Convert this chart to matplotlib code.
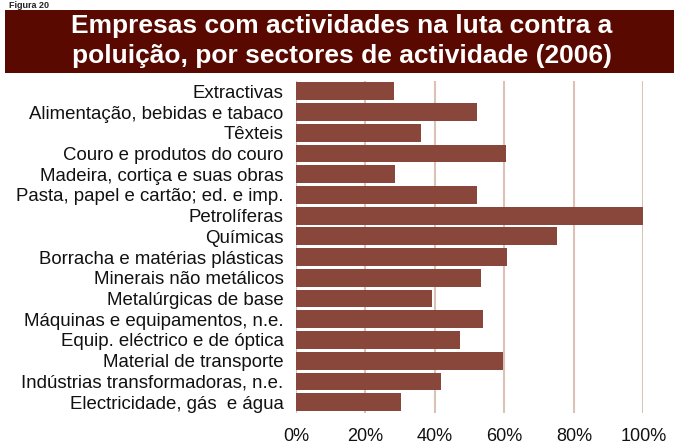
import matplotlib
matplotlib.use("Agg")
import matplotlib.pyplot as plt
from matplotlib.patches import Rectangle

plt.rcParams['font.family'] = ['Liberation Sans', 'DejaVu Sans']

categories = [
    "Extractivas",
    "Alimentação, bebidas e tabaco",
    "Têxteis",
    "Couro e produtos do couro",
    "Madeira, cortiça e suas obras",
    "Pasta, papel e cartão; ed. e imp.",
    "Petrolíferas",
    "Químicas",
    "Borracha e matérias plásticas",
    "Minerais não metálicos",
    "Metalúrgicas de base",
    "Máquinas e equipamentos, n.e.",
    "Equip. eléctrico e de óptica",
    "Material de transporte",
    "Indústrias transformadoras, n.e.",
    "Electricidade, gás  e água",
]
values = [28.2, 52.1, 36.0, 60.5, 28.5, 52.1, 100.0, 75.2, 60.8, 53.3,
          39.2, 53.8, 47.2, 59.6, 41.8, 30.2]
xticks = [0, 20, 40, 60, 80, 100]
xtick_labels = ["0%", "20%", "40%", "60%", "80%", "100%"]
title_lines = ["Empresas com actividades na luta contra a",
               "poluição, por sectores de actividade (2006)"]

W, H = 674, 447
fig = plt.figure(figsize=(W / 100, H / 100), dpi=100)
fig.patch.set_facecolor("white")

# title box
fig.patches.append(Rectangle((5 / W, 1 - 73 / H), (W - 5) / W, 63 / H,
                             transform=fig.transFigure, facecolor="#590900",
                             edgecolor="none", zorder=0))
fig.text(342 / W, 1 - 25.5 / H, title_lines[0], color="white", fontsize=19,
         fontweight="bold", ha="center", va="center")
fig.text(342 / W, 1 - 56 / H, title_lines[1], color="white", fontsize=19,
         fontweight="bold", ha="center", va="center")
fig.text(9 / W, 1 - 0.5 / H, "Figura 20", color="#222222", fontsize=6.5,
         fontweight="bold", ha="left", va="top")

ax = fig.add_axes([296 / W, 1 - 412.5 / H, (643.3 - 296) / W, (412.5 - 81) / H])
y = list(range(len(categories)))
ax.barh(y, values, height=0.86, color="#88473A", zorder=3)
ax.set_ylim(len(categories) - 0.5, -0.5)
ax.set_xlim(0, 100)
ax.set_yticks(y)
ax.set_yticklabels(categories, fontsize=13.4, color="#111111")
ax.set_xticks(xticks)
ax.set_xticklabels(xtick_labels, fontsize=13, color="#111111")
ax.tick_params(axis="both", length=0)
ax.tick_params(axis="y", pad=9)
ax.tick_params(axis="x", pad=11.5)
for s in ax.spines.values():
    s.set_visible(False)
for xt in xticks:
    ax.axvline(xt, color="#DCC2B6", linewidth=1.5, zorder=1)
ax.set_facecolor("white")

fig.savefig("out.png", dpi=100)
